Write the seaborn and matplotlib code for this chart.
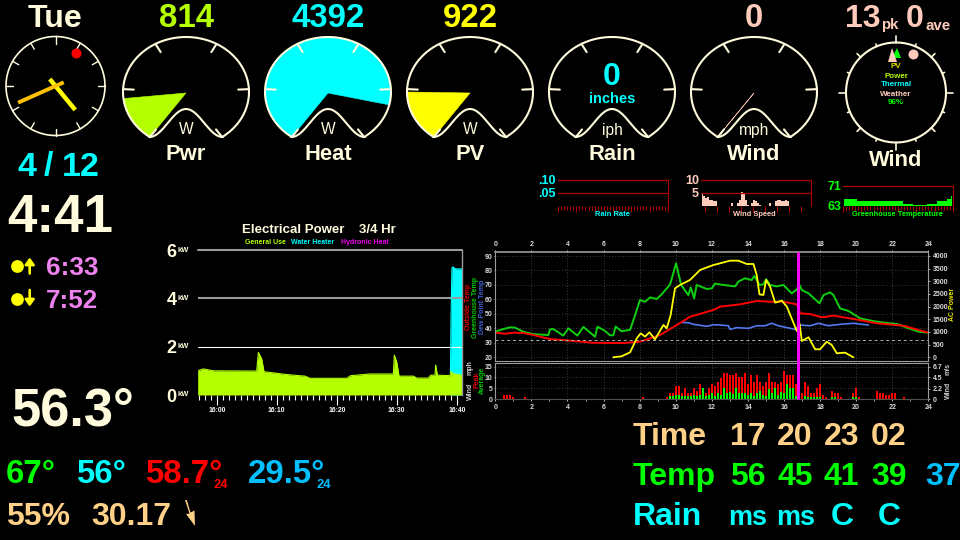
import numpy as np
import pandas as pd
import matplotlib
matplotlib.use("Agg")
import matplotlib.pyplot as plt
import seaborn as sns

# ---- readings shown on the dashboard ----
gauge_centres = [186, 328, 470, 612, 754]
gauge_names = ["Pwr", "Heat", "PV", "Rain", "Wind"]
gauge_units = ["W", "W", "W", "iph", "mph"]
gauge_values = [814, 4392, 922, 0, 0]
gauge_headlines = ["814", "4392", "922", None, "0"]
GAUGE_MAX = 5100

clock_hour = 4
clock_minute = 41

# ---- small strip charts (one sample per two pixels of strip width) ----
strip_wind = [5.0, 3.9, 3.0, 3.4, 2.3, 2.3, 2.0, 1.9, 0, 0, 0, 0, 0, 0, 0, 1.0, 0, 0, 1.0, 2.4,
              5.5, 4.5, 2.2, 0.5, 0, 1.0, 2.2, 2.0, 1.2, 0.5, 0, 0, 0, 0, 1.0, 0, 0, 2.0, 2.4, 2.2,
              2.0, 2.0, 2.2, 2.0, 0, 0, 0, 0, 0, 0, 0, 0, 0, 0, 0]
strip_greenhouse = [65.8, 65.8, 65.8, 65.8, 65.8, 65.8, 65.8, 64.9, 64.9, 64.9, 64.9, 64.9, 64.9, 64.9,
                    64.9, 64.9, 64.9, 64.9, 64.9, 64.9, 64.9, 64.9, 64.9, 64.9, 64.9, 64.9, 64.9, 64.9,
                    64.9, 64.9, 64.0, 64.0, 64.0, 64.0, 64.0, 63.3, 63.3, 63.3, 63.3, 63.3, 63.3, 63.3,
                    64.0, 64.0, 64.0, 64.0, 64.0, 64.9, 64.9, 64.9, 64.9, 64.9, 65.8, 65.8, 66.9]

# ---- electrical power, last 3/4 hour (minutes after 16:00, kW) ----
use_minutes = [-3.17, -2.23, -0.56, 6.66, 6.94, 7.49, 7.88, 10.0, 10.83, 12.77, 14.72, 15.55, 21.66, 22.33,
               25.55, 29.44, 29.6, 30.0, 30.38, 32.77, 33.33, 35.27, 35.66, 36.38, 36.49, 36.77, 38.88,
               39.05, 39.44, 40.88]
use_kw = [1.0, 1.08, 1.0, 0.99, 1.76, 1.5, 0.96, 0.9, 0.87, 0.82, 0.78, 0.69, 0.69, 0.8,
          0.87, 0.87, 1.65, 1.37, 0.78, 0.78, 0.7, 0.7, 0.82, 0.82, 1.24, 0.82, 0.8,
          0.96, 0.88, 0.82]
heater_minutes = [38.95, 39.05, 39.2, 39.35, 39.8, 40.88]
heater_kw = [0.9, 3.2, 5.25, 5.3, 5.22, 5.22]

# ---- 24 hour temperatures (deg F) and AC power (W) ----
greenhouse_hours = [0, .44, .81, 1.09, 1.55, 2.11, 2.94, 3.03, 3.22, 3.77, 4.05, 4.55, 4.88, 5.53, 5.66,
                    6.08, 6.36, 6.54, 6.67, 7.0, 7.47, 7.69, 8.02, 8.3, 8.58, 8.95, 9.22, 9.69, 10.02,
                    10.3, 10.7, 10.83, 11.02, 11.16, 11.72, 12.0, 12.18, 12.46, 13.29, 13.47, 13.84,
                    14.21, 14.36, 14.64, 14.86, 15.01, 15.23, 15.6, 15.97, 16.43, 16.67, 16.86, 16.99,
                    17.36, 17.97, 18.19, 18.56, 18.74, 19.11, 19.58, 20.22, 20.96, 21.51, 22.26, 22.81,
                    23.46, 24]
greenhouse_temp = [37.7, 39.5, 40.7, 40.5, 37.7, 36, 35.4, 39.3, 39.5, 35, 40, 35, 41, 34.2, 41.2,
                   38.2, 35.2, 35.2, 41.2, 38, 39, 46.9, 59.6, 58.4, 61.4, 60.3, 63.5, 70.4, 85,
                   70, 63, 68.3, 60.7, 70, 67.2, 67.6, 71, 70.3, 69, 72.3, 74.6,
                   73.4, 76.2, 70, 70.4, 74, 70, 69, 70, 64.2, 66.5, 70, 66.5,
                   64.2, 57.3, 63, 64.9, 63, 53.8, 52, 46.9, 45, 44, 43, 40.5,
                   37.7, 37]
outside_hours = [0, .54, 1.0, 1.55, 2.11, 3.03, 3.96, 5.43, 7.1, 8.02, 9.13, 10.06, 10.79, 12.09, 12.46,
                 13.57, 14.49, 15.23, 15.97, 16.71, 16.9, 17.45, 18.1, 18.74, 19.85, 21.15, 22.63, 24]
outside_temp = [37, 36.3, 37, 36.8, 35.4, 32.6, 31.7, 30, 29.8, 30.8, 35.4, 42.3, 48, 52.7, 55,
                56.6, 58.9, 58.4, 58.4, 56.6, 50.4, 49.9, 47.6, 48.8, 46.5, 43.5, 41.8, 37]
dew_hours = [10.33, 10.7, 10.98, 11.72, 12.09, 12.46, 12.92, 13.01, 13.38, 14.03, 14.49, 14.95, 15.32,
             15.69, 16.62, 16.9, 17.45, 17.91, 18.47, 19.11, 19.85, 20.68]
dew_temp = [44.1, 43.9, 42.8, 41.4, 42.5, 42.3, 41.8, 39.3, 40.5, 40, 41.8, 41.8, 43.5,
            41.8, 39.3, 42.3, 41.8, 43.5, 41.8, 42.8, 43.5, 42.3]
ac_hours = [6.54, 7.0, 7.47, 7.84, 8.06, 8.3, 8.54, 8.85, 9.32, 9.5, 9.72, 9.96, 10.24, 10.79, 11.35,
            12.09, 12.46, 13.01, 13.47, 13.94, 14.31, 14.49, 14.64, 14.86, 15.01, 15.23, 15.51, 15.88,
            16.16, 16.71, 16.86, 16.99, 17.36, 17.73, 18.0, 18.37, 18.65, 18.93, 19.39, 19.85]
ac_watts = [0, 40, 197, 750, 947, 816, 987, 710, 1276, 1145, 1671, 2724, 2855, 3053, 3448,
            3645, 3711, 3816, 3816, 3684, 3684, 3250, 2487, 2460, 3053, 2790, 2158, 2237,
            2000, 1040, 1342, 645, 790, 316, 316, 618, 487, 158, 184, 0]
now_hour = 16.77

# ---- wind in ten minute slots (peak and average, mph) ----
wind_slots = [3, 4, 5, 6, 10, 49, 57, 58, 59, 60, 61, 62, 63, 64, 65, 66, 67, 68, 69, 70, 71, 72, 73, 74,
              75, 76, 77, 78, 79, 80, 81, 82, 83, 84, 85, 86, 87, 88, 89, 90, 91, 92, 93, 94, 95, 96, 97,
              98, 99, 100, 102, 103, 104, 105, 106, 107, 108, 109, 110, 112, 113, 114, 115, 119, 120, 121,
              127, 128, 129, 130, 131, 132, 133, 136]
wind_peak = [2, 2, 2, 1, 1, 1, 1, 3, 3, 6, 6, 3, 5, 3, 3, 5, 4, 7, 5, 3, 5, 7, 6, 8,
             9.6, 12, 12, 11, 11, 12, 10, 10, 12, 7, 11, 8, 11, 8, 6, 8, 12, 8, 8, 7, 8, 13, 11,
             11, 11, 7, 3, 8, 6, 3, 3, 5, 7, 2, 1, 4, 3, 3, 1, 3, 5, 1,
             4, 3, 3, 2, 2, 3, 3, 1]
wind_average = [0, 0, 0, 0, 0, 0, 0, 1.5, 1.5, 2, 2, 1.5, 1.5, 1.5, 1.5, 2, 1.5, 2, 5, 1.5, 2, 3, 1.5, 3,
                2, 5, 3, 3.5, 2.5, 5, 3, 3, 3, 2, 3, 1.5, 3, 4, 2, 1.5, 4.5, 3, 5, 2, 3.5, 3, 7,
                5, 5, 1.5, 0, 1.5, 1, 1, 1, 1, 1, 0, 0, 1, 1, 0, 0, 1, 1, 0,
                0, 0, 0, 0, 0, 0, 0, 0]

# ---- colours ----
CREAM = "#fffbdc"
LIME = "#b4ff00"
CYAN = "#00ffff"
YELLOW = "#ffff00"
PEACH = "#ffccbb"
TAN = "#ffd088"
GREEN = "#00ff00"
SKY = "#00bfff"
RED = "#ff0000"
VIOLET = "#ee82ee"
ORANGE = "#ffc000"
DARK_RED = "#b00000"
FRAME = "#9a9a9a"

sns.set_theme(style="dark", rc={"figure.facecolor": "black", "axes.facecolor": "black",
                                "savefig.facecolor": "black", "axes.grid": False})
plt.rcParams["font.family"] = ["Liberation Sans", "DejaVu Sans"]

W, H = 960, 540
fig = plt.figure(figsize=(W / 100, H / 100), dpi=100)
PT = 0.72  # points per pixel at 100 dpi


def axes_px(left, top, right, bottom, **kw):
    """Axes placed by pixel edges, y counted from the top of the figure."""
    return fig.add_axes([left / W, 1 - bottom / H, (right - left) / W, (bottom - top) / H], **kw)


overlay = axes_px(0, 0, W, H, zorder=10)
overlay.set_xlim(0, W)
overlay.set_ylim(H, 0)
overlay.axis("off")
overlay.patch.set_alpha(0)


def say(x, y, s, px, color, ha="left", weight="bold", **kw):
    overlay.text(x, y, s, fontsize=px * PT, color=color, ha=ha, va="baseline", fontweight=weight, **kw)


def tiny(x, y, s, color, rotation=0, ha="center", va="center", px=7.0):
    overlay.text(x, y, s, fontsize=px * PT, color=color, ha=ha, va=va, rotation=rotation,
                 fontweight="bold")


# ---- dial gauges ----
RX, RY, GY = 63, 55, 92
START, SWEEP = np.radians(235), np.radians(290)
HUMP_HALF, HUMP_TOP, HUMP_BOTTOM = 36.5, 109, 137


def rim_point(cx, t, ratio=1.0):
    return cx + RX * ratio * np.cos(t), GY - RY * ratio * np.sin(t)


def needle_param(fraction):
    # The needle turns 282 degrees in screen space; convert that to the rim parameter.
    a = np.radians(231 - 282 * fraction)
    t = np.arctan2(np.sin(a) * RX, np.cos(a) * RY)
    return t + 2 * np.pi * np.round((a - t) / (2 * np.pi))


def draw_gauge(cx, value, color):
    if color is not None:
        ts = np.linspace(START, needle_param(value / GAUGE_MAX), 80)
        xs, ys = rim_point(cx, ts)
        overlay.fill(np.r_[cx, xs], np.r_[GY + 1, ys], color=color, lw=0.4, zorder=2)
    ts = START - np.linspace(0, SWEEP, 160)
    xs, ys = rim_point(cx, ts)
    dx = np.linspace(HUMP_HALF, -HUMP_HALF, 80)
    hump = HUMP_TOP + (HUMP_BOTTOM - HUMP_TOP) * (1 - np.cos(np.pi * dx / HUMP_HALF)) / 2
    overlay.plot(np.r_[xs, cx + dx, xs[0]], np.r_[ys, hump, ys[0]], color=CREAM, lw=1.5,
                 solid_joinstyle="round", zorder=3)
    for k in range(6):
        t = START - SWEEP * k / 5
        x0, y0 = rim_point(cx, t)
        x1, y1 = rim_point(cx, t, 0.83)
        overlay.plot([x0, x1], [y0, y1], color=CREAM, lw=1.5, zorder=3)


gauge_colors = [LIME, CYAN, YELLOW, None, PEACH]
for cx, name, unit, val, head, col in zip(gauge_centres, gauge_names, gauge_units, gauge_values,
                                          gauge_headlines, gauge_colors):
    draw_gauge(cx, val, col)
    say(cx, 160, name, 22, CREAM, ha="center")
    say(cx, 134.5, unit, 15.5, CREAM, ha="center", weight="normal")
    if head is not None:
        say(cx, 27, head, 33, col, ha="center")
say(612, 85, "0", 32, CYAN, ha="center")
say(612, 103, "inches", 14.6, CYAN, ha="center")

# ---- analogue clock ----
CX, CY, CR = 55.5, 86, 49.5
th = np.linspace(0, 2 * np.pi, 200)
overlay.plot(CX + CR * np.cos(th), CY + CR * np.sin(th), color=CREAM, lw=1.2)
for k in range(12):
    a = np.radians(30 * k)
    overlay.plot([CX + (CR - 7) * np.sin(a), CX + CR * np.sin(a)],
                 [CY - (CR - 7) * np.cos(a), CY - CR * np.cos(a)], color=CREAM, lw=1.0)
hour_a = np.radians(30 * (clock_hour + clock_minute / 60))
min_a = np.radians(6 * clock_minute)
overlay.plot([CX - 9 * np.sin(hour_a), CX + 31 * np.sin(hour_a)],
             [CY + 9 * np.cos(hour_a), CY - 31 * np.cos(hour_a)], color=YELLOW, lw=3.2,
             solid_capstyle="butt")
overlay.plot([CX - 9 * np.sin(min_a), CX + 41 * np.sin(min_a)],
             [CY + 9 * np.cos(min_a), CY - 41 * np.cos(min_a)], color=ORANGE, lw=2.8,
             solid_capstyle="butt")
overlay.scatter([76], [52.5], s=(10 * PT) ** 2, color=RED, linewidths=0, zorder=4)

# ---- compass ----
KX, KY, KR = 896, 92.5, 50
overlay.plot(KX + KR * np.cos(th), KY + KR * np.sin(th), color=CREAM, lw=1.5)
for k in range(16):
    a = np.radians(22.5 * k)
    outer = KR + (7 if k % 4 == 0 else 5 if k % 2 == 0 else 2.5)
    overlay.plot([KX + KR * np.sin(a), KX + outer * np.sin(a)],
                 [KY - KR * np.cos(a), KY - outer * np.cos(a)], color=CREAM, lw=1.2)
overlay.fill([897, 892, 901], [48, 58, 58], color=GREEN, lw=0, zorder=3)
overlay.fill([892, 888, 897], [48, 62, 62], color=PEACH, lw=0, zorder=3)
overlay.scatter([913], [54], s=(10 * PT) ** 2, color=PEACH, linewidths=0, zorder=3)
for y, s, c in [(67, "PV", "#e0e000"), (76, "Power", LIME), (85, "Thermal", CYAN),
                (94, "Weather", PEACH), (103, "96%", GREEN)]:
    tiny(896, y, s, c, px=8)
say(896, 166, "Wind", 22, CREAM, ha="center")
say(845, 27, "13", 32, PEACH)
say(881, 29.5, "pk", 15, PEACH)
say(906, 27, "0", 32, PEACH)
say(925.5, 29.5, "ave", 15, PEACH)

# ---- left column readouts ----
say(55, 26.7, "Tue", 32, CREAM, ha="center")
say(18, 175.5, "4", 34, CYAN)
say(44, 175.5, "/", 34, CYAN)
say(62, 175.5, "12", 34, CYAN)
say(7, 232, "4:41", 53, CREAM)
overlay.scatter([17, 17], [266, 299], s=(12.8 * PT) ** 2, color=YELLOW, linewidths=0)
overlay.annotate("", xy=(29.7, 257.5), xytext=(29.7, 273.5),
                 arrowprops=dict(arrowstyle="-|>,head_length=0.55,head_width=0.4", color=YELLOW, lw=1.9,
                                 mutation_scale=7, shrinkA=0, shrinkB=0))
overlay.annotate("", xy=(29.7, 306.5), xytext=(29.7, 290),
                 arrowprops=dict(arrowstyle="-|>,head_length=0.55,head_width=0.4", color=YELLOW, lw=1.9,
                                 mutation_scale=7, shrinkA=0, shrinkB=0))
say(46, 275, "6:33", 26, VIOLET)
say(46, 308, "7:52", 26, VIOLET)
say(11, 425, "56.3°", 52.5, CREAM)
say(6, 483, "67°", 33, GREEN)
say(76, 483, "56°", 33, CYAN)
say(145, 483, "58.7°", 33, RED)
say(213.5, 488, "24", 13, RED)
say(248, 483, "29.5°", 33, SKY)
say(316.5, 488, "24", 13, SKY)
say(6, 525, "55%", 32, TAN)
say(91, 525, "30.17", 32, TAN)
overlay.fill([185, 186.8, 190.5, 194.5, 195, 186, 189.5], [500, 500, 512.5, 510.5, 526, 514, 513.5],
             color=TAN, lw=0)

# ---- bottom right forecast ----
say(633, 445, "Time", 32, TAN)
for x, s in zip([730, 777, 824, 871], ["17", "20", "23", "02"]):
    say(x, 445, s, 32, TAN)
say(633, 485, "Temp", 32, GREEN)
for x, s in zip([730, 777, 823, 871], ["56", "45", "41", "39"]):
    say(x, 485, s, 32, GREEN)
say(925, 485, "37", 32, SKY)
say(633, 525, "Rain", 32, CYAN)
say(728, 525, "ms", 27, CYAN)
say(776, 525, "ms", 27, CYAN)
say(831, 525, "C", 32, CYAN)
say(878, 525, "C", 32, CYAN)


# ---- strip charts ----
def strip_axes(left, right, ymin, ymax, top_y, base_y, ticks_every, major_every, n=110.0, first=0.0):
    ax = axes_px(left, top_y, right, base_y)
    ax.set_xlim(0, n)
    ax.set_ylim(ymin, ymax)
    for name in ("top", "left", "bottom"):
        ax.spines[name].set_visible(False)
    ax.spines["right"].set_color(DARK_RED)
    ax.spines["right"].set_linewidth(0.8)
    ax.set_yticks([])
    minor = np.arange(first, n + 0.01, ticks_every)
    major = minor[::major_every]
    ax.set_xticks(major)
    ax.set_xticks(minor, minor=True)
    ax.set_xticklabels([])
    ax.tick_params(axis="x", which="major", length=5.5 * PT, width=0.8, color=DARK_RED, bottom=True)
    ax.tick_params(axis="x", which="minor", length=3.5 * PT, width=0.8, color=DARK_RED, bottom=True)
    return ax


x_strip = np.arange(55) * 2 + 1

rain_ax = strip_axes(558, 668, 0, 0.1, 180, 206, 3.05, 6)
rain_ax.axhline(0.10, color=DARK_RED, lw=0.9, clip_on=False)
rain_ax.axhline(0.05, color=DARK_RED, lw=0.9)
say(556, 184, ".10", 12.5, CYAN, ha="right")
say(556, 197, ".05", 12.5, CYAN, ha="right")
tiny(612, 215, "Rain Rate", CYAN, px=7.5)

wind_ax = strip_axes(701, 811, 0, 10, 180, 206, 12, 1, first=3.7)
wind_ax.fill_between(x_strip, strip_wind, 0, step="mid", color=PEACH, lw=0)
wind_ax.axhline(10, color=DARK_RED, lw=0.9, clip_on=False)
wind_ax.axhline(5, color=DARK_RED, lw=0.9)
say(699, 184, "10", 12.5, PEACH, ha="right")
say(699, 197, "5", 12.5, PEACH, ha="right")
tiny(754, 215, "Wind Speed", PEACH, px=7.5)

house_ax = strip_axes(843, 953, 63, 71, 186, 206, 3.05, 6)
house_ax.fill_between(x_strip, strip_greenhouse, 63, step="mid", color=GREEN, lw=0)
house_ax.axhline(71, color=DARK_RED, lw=0.9, clip_on=False)
house_ax.set_xlim(0, 110)
house_ax.set_ylim(63, 71)
say(841, 190, "71", 12.5, GREEN, ha="right")
say(841, 210, "63", 12.5, GREEN, ha="right")
tiny(897, 215, "Greenhouse Temperature", GREEN, px=7.5)

# ---- electrical power chart ----
power_ax = axes_px(197.7, 250, 462, 395)
use_frame = pd.DataFrame({"minute": use_minutes, "kw": use_kw})
heater_frame = pd.DataFrame({"minute": heater_minutes, "kw": heater_kw})
power_ax.fill_between(heater_frame["minute"], heater_frame["kw"], 0, color=CYAN, lw=0)
power_ax.fill_between(use_frame["minute"], use_frame["kw"], 0, color=LIME, lw=0)
sns.lineplot(data=heater_frame, x="minute", y="kw", ax=power_ax, color=CYAN, lw=0.8, estimator=None)
sns.lineplot(data=use_frame, x="minute", y="kw", ax=power_ax, color=LIME, lw=0.8, estimator=None)
power_ax.set_xlim(-3.17, 40.88)
power_ax.set_ylim(0, 6)
power_ax.set_xlabel("")
power_ax.set_ylabel("")
power_ax.axhline(6, color=FRAME, lw=1.5, clip_on=False)
power_ax.axhline(4, color=FRAME, lw=1.5, zorder=1)
power_ax.axhline(2, color="white", lw=0.8, zorder=1)
for name in ("top", "left", "bottom"):
    power_ax.spines[name].set_visible(False)
power_ax.spines["right"].set_color(FRAME)
power_ax.spines["right"].set_linewidth(1)
power_ax.set_xticks([0, 10, 20, 30, 40])
power_ax.set_xticklabels(["16:00", "16:10", "16:20", "16:30", "16:40"], fontsize=6.8 * PT,
                         color="white", fontweight="bold")
power_ax.set_xticks(np.arange(-3, 41), minor=True)
power_ax.tick_params(axis="x", which="major", length=10 * PT, width=0.8, color="white", bottom=True,
                     pad=1.5)
power_ax.tick_params(axis="x", which="minor", length=4.5 * PT, width=0.8, color="white", bottom=True)
power_ax.set_yticks([0, 2, 4, 6])
power_ax.set_yticklabels(["0", "2", "4", "6"], fontsize=18 * PT, color=CREAM, fontweight="bold")
power_ax.tick_params(axis="y", length=0, pad=21 * PT)
for y in [250, 298, 346.5, 395]:
    tiny(178, y, "kW", CREAM, ha="left", px=7.5)
say(319, 232.7, "Electrical Power    3/4 Hr", 13.2, CREAM, ha="center")
tiny(265.7, 243, "General Use", LIME, px=7)
tiny(313, 243, "Water Heater", CYAN, px=7)
tiny(365, 243, "Hydronic Heat", "#ee00ee", px=7)

# ---- 24 hour temperature and power chart ----
PL, PR = 495.3, 928.3
temp_ax = axes_px(PL, 252.3, PR, 361)
wind24_ax = axes_px(PL, 363.3, PR, 399.3)
TICK = "#d8d8d8"
TICK_PX = 7.0

sns.lineplot(x=greenhouse_hours, y=greenhouse_temp, ax=temp_ax, color="#0fd00f", lw=1.4, estimator=None, sort=False)
sns.lineplot(x=dew_hours, y=dew_temp, ax=temp_ax, color="#5578f0", lw=1.2, estimator=None, sort=False)
sns.lineplot(x=outside_hours, y=outside_temp, ax=temp_ax, color=RED, lw=1.4, estimator=None, sort=False)
temp_ax.set_xlim(0, 24)
temp_ax.set_ylim(17.44, 92.56)
temp_ax.set_xlabel("")
temp_ax.set_ylabel("")
temp_ax.axhline(32, color="#b0b0b0", lw=0.7, ls=(0, (3, 3)))
temp_ax.set_yticks(np.arange(20, 91, 10))
temp_ax.set_xticks(np.arange(0, 25, 2))
temp_ax.set_xticks(np.arange(0, 25, 1), minor=True)
temp_ax.xaxis.tick_top()
temp_ax.grid(True, which="major", color="#707070", lw=0.5, ls=(0, (1, 3)))
temp_ax.tick_params(axis="x", which="major", top=True, length=2.5 * PT, width=0.6, color=TICK, labelsize=TICK_PX * PT,
                    labelcolor=TICK, pad=1.5)
temp_ax.tick_params(axis="x", which="minor", top=True, length=1.5 * PT, width=0.5, color=TICK)
temp_ax.tick_params(axis="y", left=True, length=1.5 * PT, width=0.5, color=TICK, labelsize=TICK_PX * PT,
                    labelcolor=TICK, pad=1)
for lab in temp_ax.get_xticklabels() + temp_ax.get_yticklabels():
    lab.set_fontweight("bold")
for s in temp_ax.spines.values():
    s.set_color(FRAME)
    s.set_linewidth(0.8)
temp_ax.spines["top"].set_linewidth(1.2)

power_twin = temp_ax.twinx()
sns.lineplot(x=ac_hours, y=ac_watts, ax=power_twin, color=YELLOW, lw=1.3, estimator=None, sort=False)
power_twin.set_ylim(-146, 4146)
power_twin.set_xlim(0, 24)
power_twin.set_xlabel("")
power_twin.set_ylabel("")
power_twin.set_yticks(np.arange(0, 4001, 500))
power_twin.tick_params(axis="y", right=True, length=1.5 * PT, width=0.5, color=TICK, labelsize=TICK_PX * PT,
                       labelcolor=TICK, pad=2)
for lab in power_twin.get_yticklabels():
    lab.set_fontweight("bold")
for s in power_twin.spines.values():
    s.set_visible(False)

wind_hours = np.array(wind_slots) / 6
sns.barplot(x=wind_hours, y=wind_peak, ax=wind24_ax, native_scale=True, color=RED, saturation=1,
            width=0.75, errorbar=None, linewidth=0)
sns.barplot(x=wind_hours, y=wind_average, ax=wind24_ax, native_scale=True, color=GREEN, saturation=1,
            width=0.75, errorbar=None, linewidth=0)
wind24_ax.set_xlim(0, 24)
wind24_ax.set_ylim(0, 16.5)
wind24_ax.set_xlabel("")
wind24_ax.set_ylabel("")
wind24_ax.set_xticks(np.arange(0, 25, 2))
wind24_ax.set_xticklabels([str(h) for h in range(0, 25, 2)])
wind24_ax.set_xticks(np.arange(0, 25, 1), minor=True)
wind24_ax.set_yticks([0, 5, 10, 15])
wind24_ax.grid(True, which="major", color="#707070", lw=0.5, ls=(0, (1, 3)))
wind24_ax.set_axisbelow(True)
wind24_ax.tick_params(axis="x", which="major", bottom=True, length=2.5 * PT, width=0.6, color=TICK,
                      labelsize=TICK_PX * PT, labelcolor=TICK, pad=1.5)
wind24_ax.tick_params(axis="x", which="minor", bottom=True, length=1.5 * PT, width=0.5, color=TICK)
wind24_ax.tick_params(axis="y", left=True, length=1.5 * PT, width=0.5, color=TICK, labelsize=TICK_PX * PT,
                      labelcolor=TICK, pad=1)
for lab in wind24_ax.get_xticklabels() + wind24_ax.get_yticklabels():
    lab.set_fontweight("bold")
for s in wind24_ax.spines.values():
    s.set_color(FRAME)
    s.set_linewidth(0.8)
wind24_ax.spines["bottom"].set_color("#505050")

speed_twin = wind24_ax.twinx()
speed_twin.set_ylim(0, 16.5 * 0.447)
speed_twin.set_yticks([0, 2.2, 4.5, 6.7])
speed_twin.set_yticklabels(["0", "2.2", "4.5", "6.7"])
speed_twin.tick_params(axis="y", right=True, length=1.5 * PT, width=0.5, color=TICK, labelsize=TICK_PX * PT,
                       labelcolor=TICK, pad=2)
for lab in speed_twin.get_yticklabels():
    lab.set_fontweight("bold")
for s in speed_twin.spines.values():
    s.set_visible(False)

# present time marker spanning both panels
now_x = PL + now_hour / 24 * (PR - PL)
overlay.plot([now_x, now_x], [252.3, 399.3], color="#ff00ff", lw=2.1, solid_capstyle="butt")

# axis captions beside the panels
tiny(468.5, 307, "Outside Temp", "#e00000", rotation=90)
tiny(475.5, 307, "Greenhouse Temp", "#00c800", rotation=90)
tiny(482, 307, "Dew Point Temp", "#4060d0", rotation=90)
tiny(470.5, 391, "Wind", "#d0d0d0", rotation=90)
tiny(470.5, 367.5, "mph", "#d0d0d0", rotation=90)
tiny(477, 380, "Peak", "#e00000", rotation=90)
tiny(482.5, 380, "Average", "#00c800", rotation=90)
tiny(952.5, 304, "AC Power", "#e8e800", rotation=90)
tiny(948.5, 369, "m/s", "#d0d0d0", rotation=90)
tiny(948.5, 390, "Wind", "#d0d0d0", rotation=90)

fig.savefig("out.png", dpi=100, facecolor="black")
